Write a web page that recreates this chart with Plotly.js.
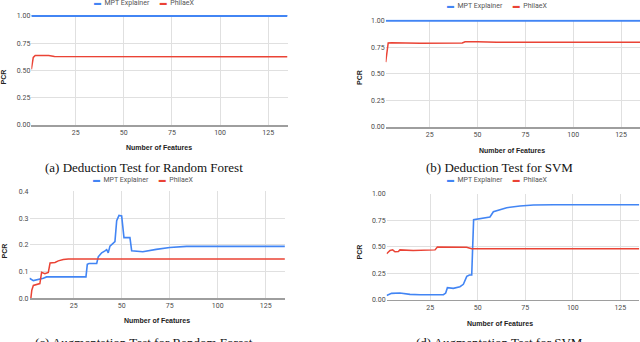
<!DOCTYPE html>
<html>
<head>
<meta charset="utf-8">
<script src="https://cdn.plot.ly/plotly-3.0.1.min.js"></script>
<style>
  html, body { margin: 0; padding: 0; background: #fff; }
  #plot { width: 640px; height: 342px; }
</style>
</head>
<body>
<div id="plot"></div>
<script>
// (a) deduction test, random forest
var aX_mpt = [2, 135];
var aY_mpt = [1, 1];
var aX_phi = [2, 2.5, 3, 4, 8, 11, 14, 30, 135];
var aY_phi = [0.51, 0.58, 0.62, 0.638, 0.64, 0.637, 0.628, 0.627, 0.625];

// (b) deduction test, SVM
var bX_mpt = [2, 135];
var bY_mpt = [1, 1];
var bX_phi = [2, 3.3, 5, 20, 42, 43.5, 50, 60, 135];
var bY_phi = [0.61, 0.79, 0.792, 0.787, 0.79, 0.802, 0.802, 0.798, 0.797];

// (c) augmentation test, random forest
var cX_mpt = [2, 2.7, 4, 9.2, 10.9, 31.4, 32.1, 33, 37, 37.8, 39.6, 41.3, 42.2, 43, 43.9, 46.5, 47.4, 48.6, 50, 51.2, 54.3, 55.2, 61, 68, 75, 83.8, 135];
var cY_mpt = [0.075, 0.072, 0.066, 0.075, 0.08, 0.08, 0.127, 0.13, 0.13, 0.155, 0.17, 0.177, 0.182, 0.17, 0.195, 0.212, 0.29, 0.31, 0.308, 0.227, 0.227, 0.178, 0.174, 0.183, 0.19, 0.194, 0.194];
var cX_phi = [2.7, 3.2, 4, 7.4, 8.3, 10, 11.8, 12.7, 15.3, 17, 19.6, 22.2, 135];
var cY_phi = [0.0, 0.03, 0.048, 0.055, 0.097, 0.092, 0.097, 0.132, 0.134, 0.14, 0.145, 0.147, 0.147];

// (d) augmentation test, SVM
var dX_mpt = [2, 4.6, 9, 14.3, 19.6, 31.9, 33.1, 34, 37.1, 40.6, 42.4, 44.2, 45.6, 46.8, 47.8, 52, 54.7, 56.4, 58.2, 61.7, 65.2, 72.2, 79.3, 89.8, 135];
var dY_mpt = [0.04, 0.06, 0.063, 0.05, 0.047, 0.047, 0.063, 0.113, 0.107, 0.123, 0.145, 0.22, 0.233, 0.233, 0.755, 0.764, 0.774, 0.78, 0.83, 0.846, 0.868, 0.884, 0.893, 0.896, 0.896];
var dX_phi = [2, 3.8, 5.2, 6.4, 8.2, 9, 16, 27.5, 28.7, 44.1, 46.8, 135];
var dY_phi = [0.434, 0.465, 0.47, 0.452, 0.455, 0.47, 0.465, 0.47, 0.497, 0.494, 0.48, 0.48];

var captions = ["(a) Deduction Test for Random Forest", "(b) Deduction Test for SVM",
                "(c) Augmentation Test for Random Forest", "(d) Augmentation Test for SVM"];
var seriesNames = ["MPT Explainer", "PhilaeX"];

var blue = "#4285f4", red = "#ea4335";
var W = 640, H = 342;
function px(x) { return x / W; }
function py(y) { return 1 - y / H; }

function line(x, y, color, ax, name, w) {
  return {x: x, y: y, type: "scatter", mode: "lines", name: name,
          xaxis: "x" + ax, yaxis: "y" + ax,
          line: {color: color, width: w}, hoverinfo: "x+y"};
}

var traces = [
  line(aX_mpt, aY_mpt, blue, "", seriesNames[0], 2),
  line(aX_phi, aY_phi, red, "", seriesNames[1], 1.5),
  line(bX_mpt, bY_mpt, blue, "2", seriesNames[0], 2),
  line(bX_phi, bY_phi, red, "2", seriesNames[1], 1.5),
  line(cX_mpt, cY_mpt, blue, "3", seriesNames[0], 1.6),
  line(cX_phi, cY_phi, red, "3", seriesNames[1], 1.5),
  line(dX_mpt, dY_mpt, blue, "4", seriesNames[0], 1.6),
  line(dX_phi, dY_phi, red, "4", seriesNames[1], 1.5)
];

var tickFont = {family: "Roboto, Arial, sans-serif", size: 7, color: "#4a4a4a"};

function xax(domain, range, anchor) {
  return {domain: domain, range: range, anchor: anchor, tickvals: [25, 50, 75, 100, 125],
          showgrid: true, gridcolor: "#e0e0e0", gridwidth: 1, zeroline: false,
          showline: true, linecolor: "#9e9e9e", linewidth: 1.5,
          ticks: "", tickfont: tickFont, fixedrange: true};
}
function yax(domain, range, dtick, fmt, anchor) {
  return {domain: domain, range: range, anchor: anchor, dtick: dtick, tick0: 0, tickformat: fmt,
          showgrid: true, gridcolor: "#e0e0e0", gridwidth: 1, zeroline: false,
          showline: false, ticks: "", tickfont: tickFont, fixedrange: true};
}

var annotations = [];
function ann(text, x, y, opts) {
  var a = {text: text, x: px(x), y: py(y), xref: "paper", yref: "paper",
           showarrow: false, xanchor: "center", yanchor: "middle"};
  for (var k in opts) a[k] = opts[k];
  annotations.push(a);
}

var legendText = '<span style="color:' + blue + '">▬</span>  ' + seriesNames[0] +
  '      <span style="color:' + red + '">▬</span>  ' + seriesNames[1];
var legendFont = {family: "Roboto, Arial, sans-serif", size: 7, color: "#555"};
var capFont = {family: "Liberation Serif, Times New Roman, serif", size: 13, color: "#111"};
var titleFont = {family: "Liberation Sans, Arial, sans-serif", size: 7, color: "#222"};

// legends
ann(legendText, 144, 3.5, {font: legendFont});
ann(legendText, 497, 5.5, {font: legendFont});
ann(legendText, 143, 179.5, {font: legendFont});
ann(legendText, 497, 180, {font: legendFont});
// captions (the bottom two are cut by the page edge, as in the source figure)
ann(captions[0], 144, 167.5, {font: capFont});
ann(captions[1], 499, 167.5, {font: capFont});
ann(captions[2], 144, 342, {font: capFont});
ann(captions[3], 499, 342, {font: capFont});
// axis titles
ann("<b>Number of Features</b>", 159, 147, {font: titleFont});
ann("<b>Number of Features</b>", 512, 150, {font: titleFont});
ann("<b>Number of Features</b>", 157, 320, {font: titleFont});
ann("<b>Number of Features</b>", 500, 323, {font: titleFont});
ann("<b>PCR</b>", 3.5, 77, {font: titleFont, textangle: -90});
ann("<b>PCR</b>", 359, 78, {font: titleFont, textangle: -90});
ann("<b>PCR</b>", 3.5, 251, {font: titleFont, textangle: -90});
ann("<b>PCR</b>", 359, 252.5, {font: titleFont, textangle: -90});

var layout = {
  width: W, height: H,
  margin: {l: 0, r: 0, t: 0, b: 0, pad: 0},
  paper_bgcolor: "#fff", plot_bgcolor: "#fff",
  showlegend: false,
  xaxis:  xax([px(31.35), px(287.5)], [2, 135], "y"),
  yaxis:  yax([py(125), py(14.9)], [0, 1.01], 0.25, ".2f", "x"),
  xaxis2: xax([px(385.7), 1], [2, 134.9], "y2"),
  yaxis2: yax([py(127), py(19.6)], [0, 1.01], 0.25, ".2f", "x2"),
  xaxis3: xax([px(29.5), px(284.9)], [2, 135], "y3"),
  yaxis3: yax([py(298.3), py(191.3)], [0, 0.4], 0.1, ".1f", "x3"),
  xaxis4: xax([px(386.6), px(639.3)], [2, 135], "y4"),
  yaxis4: yax([py(299.7), py(193.7)], [0, 1], 0.25, ".2f", "x4"),
  annotations: annotations
};

Plotly.newPlot("plot", traces, layout, {displayModeBar: false, staticPlot: true});
</script>
</body>
</html>
